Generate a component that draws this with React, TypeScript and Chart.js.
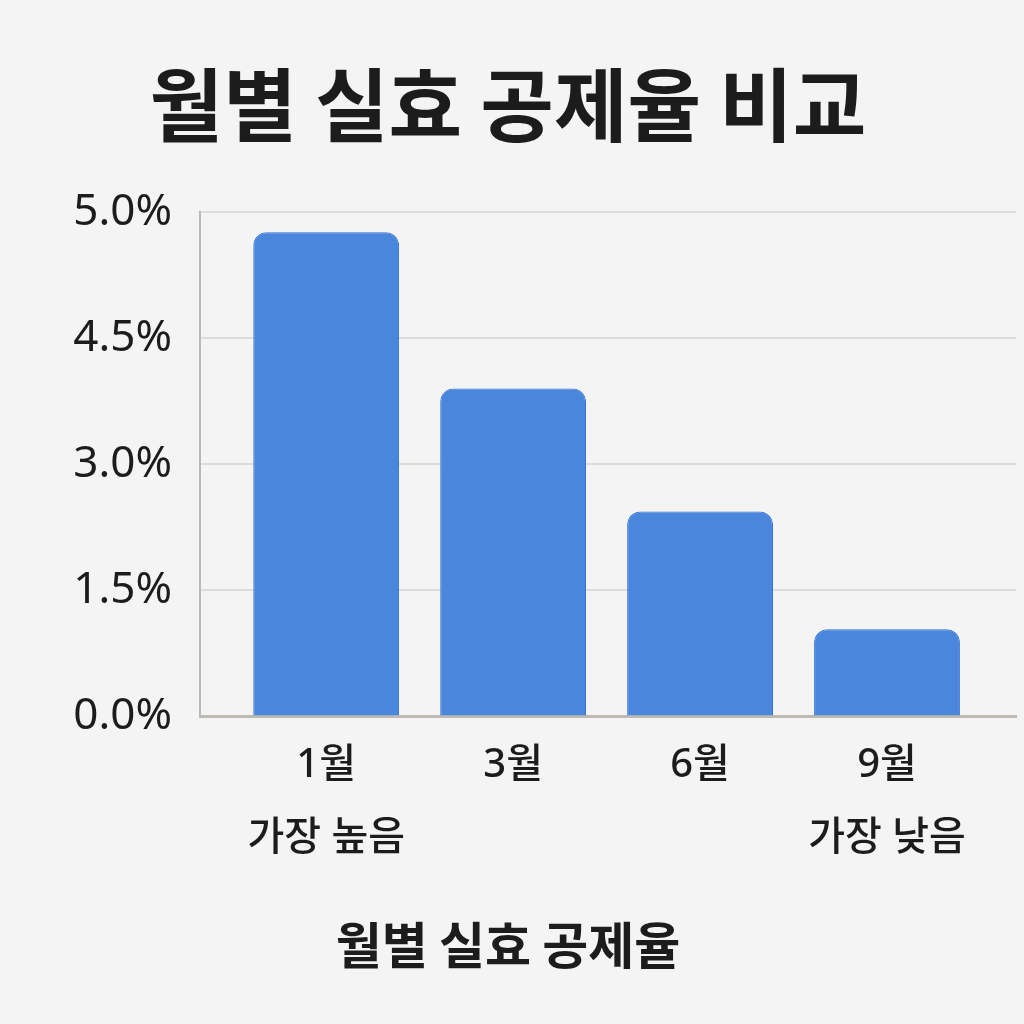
import React, { useRef, useEffect } from 'react';
import { Chart, registerables } from 'chart.js';

Chart.register(...registerables);

// Months and the effective deduction rate (%)
const MONTHS = ['1월', '3월', '6월', '9월'];
const NOTES = ['가장 높음', '', '', '가장 낮음'];
const RATES = [4.92, 3.9, 2.44, 1.04];

// The y axis is labelled unevenly: equal steps carry these values
const Y_TICKS = [0, 1.5, 3.0, 4.5, 5.0];

const TITLE = '월별 실효 공제율 비교';
const AXIS_TITLE = '월별 실효 공제율';

const BG = '#f4f4f4';
const BAR = '#4a86dc';
const BAR_EDGE = '#2f6fd8';
const INK = '#1c1c1c';

// percent -> position on the evenly spaced tick grid
function toGrid(p: number): number {
  for (let i = 0; i < Y_TICKS.length - 1; i++) {
    const a = Y_TICKS[i];
    const b = Y_TICKS[i + 1];
    if (p <= b || i === Y_TICKS.length - 2) return i + (p - a) / (b - a);
  }
  return 0;
}

export default function App() {
  const canvasRef = useRef<HTMLCanvasElement>(null);
  const chartRef = useRef<Chart | null>(null);

  useEffect(() => {
    document.body.style.margin = '0';
    document.body.style.background = BG;
    const canvas = canvasRef.current;
    if (!canvas) return;

    chartRef.current?.destroy();

    const labels = MONTHS.map((m, i) => (NOTES[i] ? [m, NOTES[i]] : m));

    chartRef.current = new Chart(canvas, {
      type: 'bar',
      data: {
        labels,
        datasets: [
          {
            label: AXIS_TITLE,
            data: RATES.map(toGrid),
            backgroundColor: BAR,
            borderColor: BAR_EDGE,
            borderWidth: 1,
            borderSkipped: 'bottom',
            borderRadius: { topLeft: 13, topRight: 13, bottomLeft: 0, bottomRight: 0 },
            barPercentage: 0.78,
            categoryPercentage: 1,
          },
        ],
      },
      options: {
        animation: false,
        responsive: false,
        layout: { padding: { left: 0, right: 8, top: 0, bottom: 0 } },
        plugins: {
          legend: { display: false },
          tooltip: { enabled: false },
          title: {
            display: true,
            text: TITLE,
            color: INK,
            font: { family: "'Noto Sans CJK KR', sans-serif", size: 80, weight: 'bold', lineHeight: 1.2 },
            padding: { top: 57, bottom: 59 },
          },
          subtitle: {
            display: true,
            position: 'bottom',
            text: AXIS_TITLE,
            color: INK,
            font: { family: "'Noto Sans CJK KR', sans-serif", size: 50, weight: 'bold', lineHeight: 1.2 },
            padding: { top: 28, bottom: 49 },
          },
        },
        scales: {
          x: {
            grid: { display: false, drawTicks: false },
            border: { display: true, color: '#bdbab4', width: 3 },
            // the categories sit a little right of the y axis, not flush with it
            afterBuildTicks: (s: any) => {
              s._startValue = -0.675;
              s._valueRange = 4.365;
            },
            ticks: {
              padding: 12,
              color: INK,
              maxRotation: 0,
              autoSkip: false,
              font: { family: "'Noto Sans', 'Noto Sans CJK KR', sans-serif", size: 40, weight: 500, lineHeight: 1.83 },
            },
          },
          y: {
            min: 0,
            max: Y_TICKS.length - 1,
            afterFit: s => {
              s.width = 200;
            },
            grid: { color: '#dcdcdc', lineWidth: 2, drawTicks: false },
            border: { display: true, color: '#b8b8b8', width: 2 },
            ticks: {
              stepSize: 1,
              padding: 28,
              color: INK,
              font: { family: "'Noto Sans', sans-serif", size: 44 },
              callback: v => {
                const t = Y_TICKS[Number(v)];
                return t === undefined ? '' : `${t.toFixed(1)}%`;
              },
            },
          },
        },
      },
    });

    return () => {
      chartRef.current?.destroy();
      chartRef.current = null;
    };
  }, []);

  return (
    <div style={{ width: 1024, height: 1024, position: 'relative', background: BG }}>
      <canvas ref={canvasRef} width={1024} height={1024} />
    </div>
  );
}
